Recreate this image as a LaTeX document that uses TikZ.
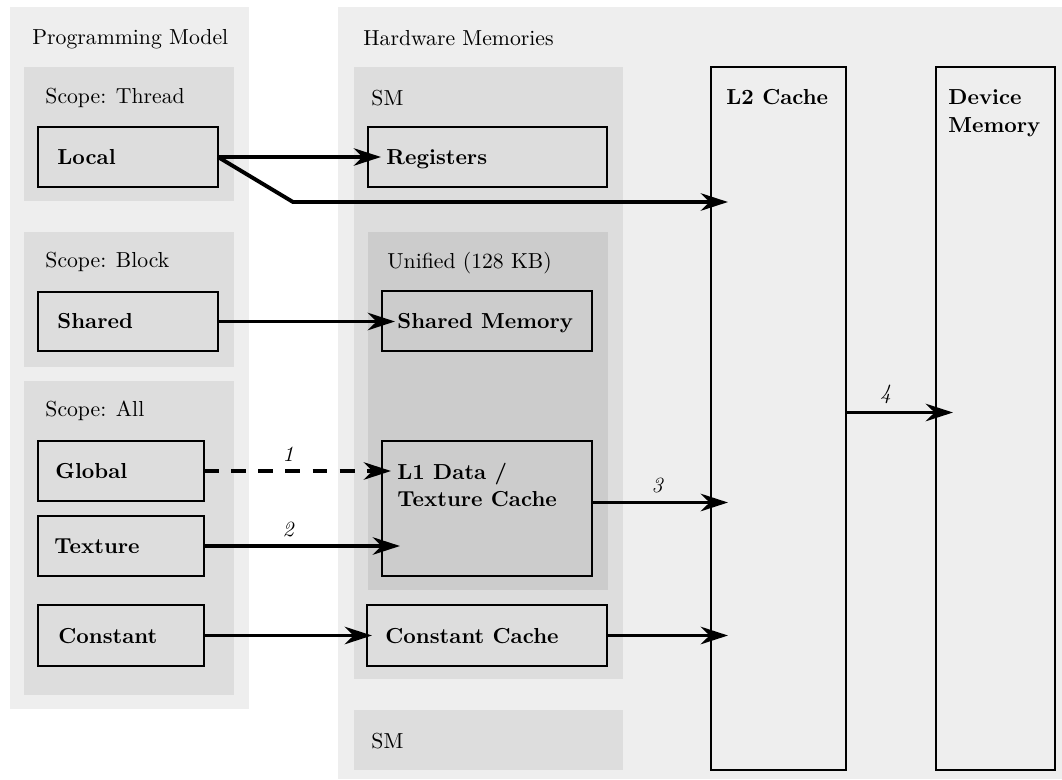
\documentclass[tikz,border=0pt]{standalone}
\usetikzlibrary{arrows.meta,fit,calc}
\definecolor{cA}{HTML}{EEEEEE}
\definecolor{cB}{HTML}{DDDDDD}
\definecolor{cC}{HTML}{CCCCCC}
\begin{document}
\begin{tikzpicture}[x=0.4608pt,y=-0.4608pt,
  panelA/.style={fill=cA,inner sep=0pt,outer sep=0pt},
  panelB/.style={fill=cB,inner sep=0pt,outer sep=0pt},
  panelC/.style={fill=cC,inner sep=0pt,outer sep=0pt},
  boxB/.style={draw=black,thick,fill=cB,inner sep=0pt,outer sep=0pt},
  boxC/.style={draw=black,thick,fill=cC,inner sep=0pt,outer sep=0pt},
  boxW/.style={draw=black,thick,inner sep=0pt,outer sep=0pt},
  txt/.style={anchor=base west,inner sep=0pt,font=\normalsize},
  btxt/.style={anchor=base west,inner sep=0pt,font=\normalsize\bfseries},
  arr/.style={line width=1.8pt,-{Stealth[length=12.5pt,width=8pt,inset=4pt]}},
  num/.style={font=\normalsize\itshape}
]
\useasboundingbox (0,0) rectangle (1062,780);
% outer panels
\node[panelA,fit={(10,7) (249,709)}] (pmpanel) {};
\node[panelA,fit={(338,7) (1062,779)}] (hwpanel) {};
% scope panels
\node[panelB,fit={(24,67) (234,201)}] (thread) {};
\node[panelB,fit={(24,232) (234,367)}] (block) {};
\node[panelB,fit={(24,381) (234,695)}] (all) {};
% SM panels
\node[panelB,fit={(354,67) (623,679)}] (sm) {};
\node[panelB,fit={(354,710) (623,770)}] (smb) {};
\node[panelC,fit={(368,232) (608,590)}] (unified) {};
% boxes
\node[boxB,fit={(38,127) (218,187)}] (local) {};
\node[boxB,fit={(38,292) (218,351)}] (shared) {};
\node[boxB,fit={(38,441) (204,501)}] (global) {};
\node[boxB,fit={(38,516) (204,576)}] (texture) {};
\node[boxB,fit={(38,605) (204,666)}] (const) {};
\node[boxB,fit={(368,127) (607,187)}] (reg) {};
\node[boxC,fit={(382,291) (592,351)}] (shmem) {};
\node[boxC,fit={(382,441) (592,576)}] (l1) {};
\node[boxB,fit={(367,605) (607,666)}] (cc) {};
\node[boxW,fit={(711,67) (846,770)}] (l2) {};
\node[boxW,fit={(936,67) (1055,770)}] (dev) {};
% texts
\node[txt] (tpm) at (32,45) {Programming Model};
\node[txt] (thw) at (363,46) {Hardware Memories};
\node[txt] (tthr) at (45,104) {Scope: Thread};
\node[txt] (tblk) at (45,267) {Scope: Block};
\node[txt] (tall) at (45,416) {Scope: All};
\node[txt] (tsm) at (371,106) {SM};
\node[txt] (tuni) at (387,268) {Unified (128 KB)};
\node[txt] (tsmb) at (371,748) {SM};
\node[btxt] (tlocal) at (57,164) {Local};
\node[btxt] (tshared) at (57,328) {Shared};
\node[btxt] (tglobal) at (55,478) {Global};
\node[btxt] (ttex) at (54,553) {Texture};
\node[btxt] (tconst) at (58,643) {Constant};
\node[btxt] (treg) at (386,164) {Registers};
\node[btxt] (tshmem) at (397,328) {Shared Memory};
\node[btxt] (tl1a) at (397,479) {L1 Data /};
\node[btxt] (tl1b) at (397,506) {Texture Cache};
\node[btxt] (tcc) at (385,643) {Constant Cache};
\node[btxt] (tl2) at (726,105) {L2 Cache};
\node[btxt] (tdev1) at (948,105) {Device};
\node[btxt] (tdev2) at (948,133) {Memory};
% connectors
\coordinate (bend) at (293,202);
\draw[arr] (local.east) -- ($(reg.west)+(13,0)$);
\draw[arr] (local.east) -- (bend) -- ($(l2.west |- bend)+(17,0)$);
\draw[arr] (shared.east) -- ($(shmem.west |- shared.east)+(13,0)$);
\draw[arr,dash pattern=on 6.9pt off 5.6pt] (global.east) -- ($(l1.west |- global.east)+(9,0)$) node[num,pos=0.45,above] (n1) {1};
\draw[arr] (texture.east) -- ($(l1.west |- texture.east)+(18,0)$) node[num,pos=0.43,above] (n2) {2};
\coordinate (l1out) at ($(l1.east)+(0,-6)$);
\draw[arr] (l1out) -- ($(l2.west |- l1out)+(17,0)$) node[num,pos=0.48,above] (n3) {3};
\draw[arr] (const.east) -- ($(cc.west |- const.east)+(5,0)$);
\draw[arr] (cc.east) -- ($(l2.west |- cc.east)+(17,0)$);
\coordinate (l2out) at ($(l2.east)+(0,-6)$);
\draw[arr] (l2out) -- ($(dev.west |- l2out)+(17,0)$) node[num,pos=0.37,above] (n4) {4};
\end{tikzpicture}
\end{document}
